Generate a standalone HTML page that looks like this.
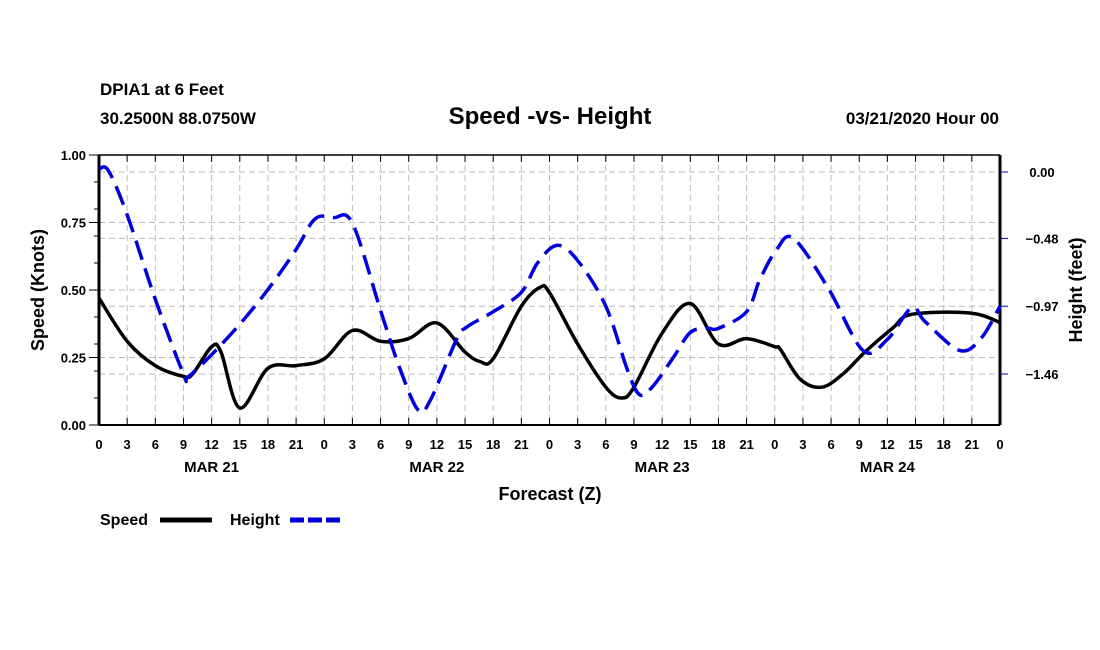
<!DOCTYPE html>
<html><head><meta charset="utf-8"><style>
body{margin:0;background:#fff}
svg{display:block;font-family:"Liberation Sans",sans-serif;font-weight:bold}
</style></head><body>
<svg id="c" width="1100" height="650">
<text x="100" y="95" font-size="17">DPIA1 at 6 Feet</text>
<text x="100" y="124" font-size="17">30.2500N 88.0750W</text>
<text x="550" y="124" font-size="24" text-anchor="middle">Speed -vs- Height</text>
<text x="999" y="124" font-size="17" text-anchor="end">03/21/2020 Hour 00</text>
<g id="grid"></g>
<g id="axes"></g>
<g id="series"></g>
<text x="550" y="500" font-size="18" text-anchor="middle">Forecast (Z)</text>
<text transform="translate(44,290) rotate(-90)" font-size="18" text-anchor="middle">Speed (Knots)</text>
<text transform="translate(1082,290) rotate(-90)" font-size="18" text-anchor="middle">Height (feet)</text>
<g><text x="100" y="525" font-size="16">Speed</text><line x1="160" y1="520" x2="212" y2="520" stroke="#000" stroke-width="5"/></g>
<g><text x="230" y="525" font-size="16">Height</text><line x1="290" y1="520" x2="342" y2="520" stroke="#0000dd" stroke-width="5" stroke-dasharray="14,4"/></g>
</svg>
<script>
const speedHours=[0,3,6,9,10,12,13,15,18,21,24,27,30,33,36,39,40.6,42,45,47,48,51,54,55.7,57,60,63,66,69,72,72.6,74.7,77,79.3,81.6,84.6,86.6,92.8,96];
const speedVals=[0.47,0.31,0.22,0.18,0.19,0.29,0.27,0.063,0.21,0.22,0.245,0.35,0.31,0.32,0.378,0.27,0.235,0.245,0.44,0.51,0.49,0.30,0.14,0.10,0.14,0.34,0.45,0.30,0.32,0.29,0.28,0.17,0.14,0.19,0.27,0.36,0.41,0.415,0.38];
const heightHours=[0,1,3,6,9,9.5,12,15,18,21,23,25,27,30,32,34,35.3,38.1,39.2,42,45,46.7,48.8,51,54,56.3,57.6,59,61.2,63,64.8,66,69,70.4,72.2,74,77.7,81.4,84,86.6,88,91.7,94,96];
const heightVals=[0.02,0.01,-0.31,-0.92,-1.46,-1.48,-1.32,-1.10,-0.85,-0.56,-0.34,-0.33,-0.37,-1.00,-1.41,-1.72,-1.65,-1.21,-1.12,-1.01,-0.87,-0.66,-0.53,-0.64,-0.97,-1.43,-1.61,-1.55,-1.34,-1.16,-1.13,-1.13,-1.01,-0.78,-0.56,-0.48,-0.84,-1.29,-1.21,-0.98,-1.08,-1.29,-1.20,-0.97];
const hourLabels=["0","3","6","9","12","15","18","21"];
const dayLabels=["MAR 21","MAR 22","MAR 23","MAR 24"];
const speedTicks=[0,0.25,0.5,0.75,1.0];
const heightTicks=[0,-0.48,-0.97,-1.46];
const X0=99,X1=1000,YT=155,YB=425;
const x=h=>X0+(X1-X0)*h/96;
const yS=v=>YB-(YB-YT)*v;
const yH=v=>172-v*(202/1.46);
const NS="http://www.w3.org/2000/svg";
function mk(p,t,a){const e=document.createElementNS(NS,t);for(const k in a)e.setAttribute(k,a[k]);p.appendChild(e);return e;}
const grid=document.getElementById('grid'),axes=document.getElementById('axes'),ser=document.getElementById('series');
const gs={stroke:"#bbb","stroke-width":1,"stroke-dasharray":"6,4"};
for(let h=3;h<96;h+=3){const l=mk(grid,'line',Object.assign({x1:x(h),x2:x(h),y1:YT,y2:YB},gs));}
speedTicks.forEach(v=>{const l=mk(grid,'line',Object.assign({x1:X0,x2:X1,y1:yS(v),y2:yS(v)},gs));});
heightTicks.forEach(v=>{const l=mk(grid,'line',Object.assign({x1:X0,x2:X1,y1:yH(v),y2:yH(v)},gs));});
mk(axes,'line',{x1:X0,x2:X1,y1:YT,y2:YT,stroke:"#000","stroke-width":1.5});
mk(axes,'line',{x1:X0,x2:X1,y1:YB,y2:YB,stroke:"#000","stroke-width":2});
mk(axes,'line',{x1:X0,x2:X0,y1:YT,y2:YB,stroke:"#000","stroke-width":3});
mk(axes,'line',{x1:X1,x2:X1,y1:YT,y2:YB,stroke:"#000","stroke-width":3});
for(let h=0;h<=96;h+=3){
 mk(axes,'line',{x1:x(h),x2:x(h),y1:YB,y2:YB-7,stroke:"#000","stroke-width":1});
 mk(axes,'line',{x1:x(h),x2:x(h),y1:YT,y2:YT+7,stroke:"#000","stroke-width":1});
 const t=mk(axes,'text',{x:x(h),y:449,"font-size":13,"text-anchor":"middle"});
 t.textContent=hourLabels[(h/3)%8];
 
}
dayLabels.forEach((d,i)=>{const t=mk(axes,'text',{x:x(12+24*i),y:472,"font-size":15,"text-anchor":"middle"});t.textContent=d;
 });
for(let v=0;v<=1.001;v+=0.1){mk(axes,'line',{x1:X0-5,x2:X0,y1:yS(v),y2:yS(v),stroke:"#000"});}
speedTicks.forEach(v=>{mk(axes,'line',{x1:X0-10,x2:X0,y1:yS(v),y2:yS(v),stroke:"#000"});
 const t=mk(axes,'text',{x:X0-13,y:yS(v)+5,"font-size":13,"text-anchor":"end"});t.textContent=v.toFixed(2);
 });
heightTicks.forEach(v=>{mk(axes,'line',{x1:X1,x2:X1+8,y1:yH(v),y2:yH(v),stroke:"#00a"});
 const t=mk(axes,'text',{x:1042,y:yH(v)+5,"font-size":13,"text-anchor":"middle"});t.textContent=(v===0?"0.00":"\u2212"+Math.abs(v).toFixed(2));
 });
function path(hs,vs,yf){const P=hs.map((h,i)=>[x(h),yf(vs[i])]);let d="M"+P[0][0]+","+P[0][1];
 for(let i=0;i<P.length-1;i++){const p0=P[Math.max(i-1,0)],p1=P[i],p2=P[i+1],p3=P[Math.min(i+2,P.length-1)];
  const c1=[p1[0]+(p2[0]-p0[0])/6,p1[1]+(p2[1]-p0[1])/6],c2=[p2[0]-(p3[0]-p1[0])/6,p2[1]-(p3[1]-p1[1])/6];
  d+=`C${c1[0]},${c1[1]} ${c2[0]},${c2[1]} ${p2[0]},${p2[1]}`;}return d;}
const ps=mk(ser,'path',{d:path(speedHours,speedVals,yS),fill:"none",stroke:"#000","stroke-width":3.5});

const ph=mk(ser,'path',{d:path(heightHours,heightVals,yH),fill:"none",stroke:"#0000dd","stroke-width":3.5,"stroke-dasharray":"20,9"});

</script>
</body></html>
